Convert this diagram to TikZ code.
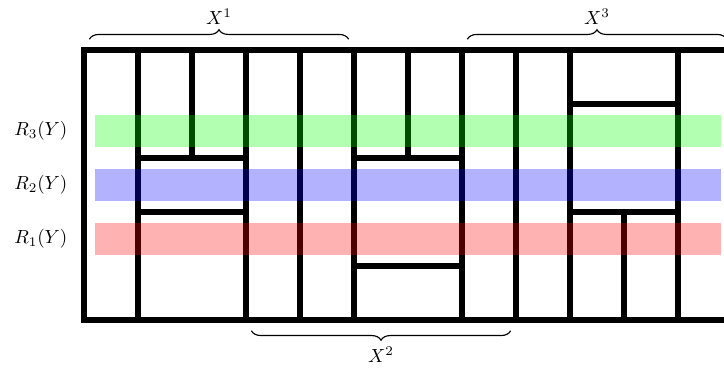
\documentclass[tikz,border=0pt]{standalone}
\usetikzlibrary{decorations.pathreplacing}
\begin{document}
\begin{tikzpicture}[x=1cm,y=1cm,
  wall/.style={line width=3pt},
  band/.style={opacity=0.3},
  bracedeco/.style={decorate,decoration={brace,amplitude=5pt},semithick},
  lbl/.style={inner sep=1pt}]
\useasboundingbox (-1.556,-0.889) rectangle (11.852,5.926);
\clip (-1.556,-0.889) rectangle (11.852,5.926);
% walls
\draw[wall] (0,0) rectangle (12,5);
\foreach \x in {1,3,4,5,7,8,9,11} \draw[wall] (\x,0) -- (\x,5);
\draw[wall] (2,3) -- (2,5);
\draw[wall] (6,3) -- (6,5);
\draw[wall] (10,0) -- (10,2);
\draw[wall] (1,3) -- (3,3);
\draw[wall] (1,2) -- (3,2);
\draw[wall] (5,3) -- (7,3);
\draw[wall] (5,1) -- (7,1);
\draw[wall] (9,4) -- (11,4);
\draw[wall] (9,2) -- (11,2);
% bands
\fill[band,green] (0.2,3.2) rectangle (11.8,3.8);
\fill[band,blue] (0.2,2.2) rectangle (11.8,2.8);
\fill[band,red] (0.2,1.2) rectangle (11.8,1.8);
% labels
\node[lbl] (r3) at (-0.8,3.5) {$R_3(Y)$};
\node[lbl] (r2) at (-0.8,2.5) {$R_2(Y)$};
\node[lbl] (r1) at (-0.8,1.5) {$R_1(Y)$};
% braces
\coordinate (a1) at (0.1,5.2);
\coordinate (b1) at (4.9,5.2);
\coordinate (a3) at (7.1,5.2);
\coordinate (b3) at (11.9,5.2);
\coordinate (a2) at (7.9,-0.2);
\coordinate (b2) at (3.1,-0.2);
\draw[bracedeco] (a1) -- (b1);
\draw[bracedeco] (a3) -- (b3);
\draw[bracedeco] (a2) -- (b2);
\node[lbl] (x1) at (2.5,5.62) {$X^1$};
\node[lbl] (x3) at (9.5,5.62) {$X^3$};
\node[lbl] (x2) at (5.5,-0.64) {$X^2$};
\end{tikzpicture}
\end{document}
